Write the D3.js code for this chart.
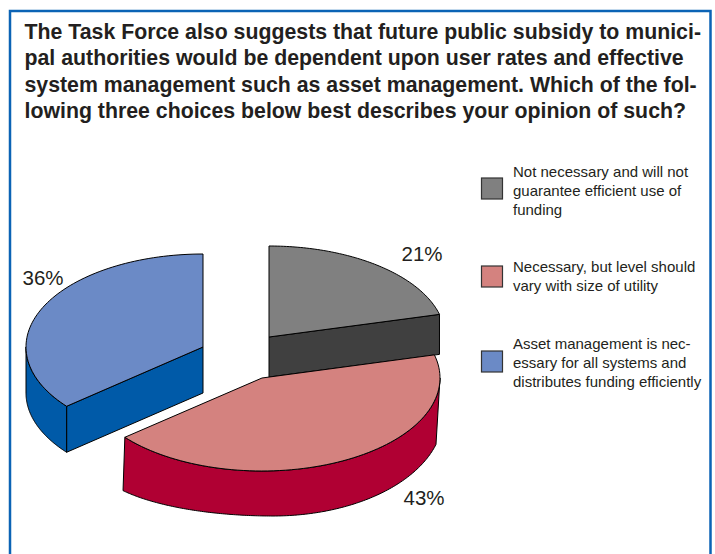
<!DOCTYPE html>
<html>
<head>
<meta charset="utf-8">
<script src="https://cdn.jsdelivr.net/npm/d3@7"></script>
<style>
html,body{margin:0;padding:0;background:#fff;overflow:hidden}
svg{display:block;font-family:"Liberation Sans",Arial,sans-serif}
</style>
</head>
<body>
<script>
const questionLines = [
  "The Task Force also suggests that future public subsidy to munici-",
  "pal authorities would be dependent upon user rates and effective",
  "system management such as asset management. Which of the fol-",
  "lowing three choices below best describes your opinion of such?"
];
const answers = ["Not necessary", "Necessary", "Asset management"];
const shares = [21, 43, 36];
const shareLabels = ["21%", "43%", "36%"];
const legendLines = [
  ["Not necessary and will not", "guarantee efficient use of", "funding"],
  ["Necessary, but level should", "vary with size of utility"],
  ["Asset management is nec-", "essary for all systems and", "distributes funding efficiently"]
];
const topColors = ["#808080", "#d4827f", "#6b8ac6"];
const wallColors = ["#404040", "#b00033", "#005aa8"];

// Where each exploded slice's apex sits, with the height of its wall and its label spot.
// The red slice's lower edge is drawn as two quarter ellipses meeting at its lowest point.
const sliceLayout = [
  {cx: 269, cy: 337, rx: 176, ry: 91, depth: 40, lx: 422, ly: 261},
  {cx: 262, cy: 378, rx: 178, ry: 93, depth: 46, lx: 424, ly: 505,
   base: [
     {cx: 273, cy: 416, rx: 170, ry: 100, from: 106.5, to: 180},
     {cx: 273, cy: 461, rx: 178, ry: 55, from: 180, to: 237.4}
   ]},
  {cx: 203, cy: 347, rx: 177, ry: 93, depth: 46, lx: 43, ly: 285}
];
const headingBaselines = [38.5, 64.5, 91.5, 118];
const legendLayout = [
  {swatchY: 178, textY: 177},
  {swatchY: 266, textY: 272},
  {swatchY: 351, textY: 349}
];

const width = 715, height = 554;
const svg = d3.select("body").append("svg").attr("width", width).attr("height", height);
const rad = d3.scaleLinear().domain([0, 360]).range([0, 2 * Math.PI]);

// Blue panel border, running off the bottom of the page
svg.append("path")
  .attr("d", "M10,560V11H710.5V560")
  .attr("fill", "none").attr("stroke", "#0b63b5").attr("stroke-width", 2.5);

// Question heading
svg.append("g").selectAll("text").data(questionLines).join("text")
  .attr("x", 24.5)
  .attr("y", (d, i) => headingBaselines[i])
  .attr("font-size", 21.3).attr("font-weight", 700).attr("fill", "#231f20")
  .text(d => d);

// Slices run clockwise from twelve o'clock
const arcs = d3.pie().sort(null).value(d => d)(shares);
const pieData = arcs.map((a, i) => ({...a, i, ...sliceLayout[i]}));

const outline = d3.line().curve(d3.curveLinear);

// Arc points between two angles on a tilted ellipse
function rim(e, from, to, dy) {
  const n = 80;
  return d3.range(n + 1).map(k => {
    const t = from + (to - from) * k / n;
    return [e.cx + e.rx * Math.sin(t), e.cy - e.ry * Math.cos(t) + dy];
  });
}

// Top face of a slice
function topFace(d) {
  return outline([[d.cx, d.cy], ...rim(d, d.startAngle, d.endAngle, 0)]) + "Z";
}

// Curved outer wall, limited to the part of the rim facing the viewer
function outerWall(d) {
  const from = Math.max(d.startAngle, Math.PI / 2);
  const to = Math.min(d.endAngle, 3 * Math.PI / 2);
  if (to <= from) return null;
  const upper = rim(d, from, to, 0);
  const lower = d.base
    ? d.base.slice().reverse().flatMap(e => rim(e, rad(e.to), rad(e.from), 0))
    : rim(d, to, from, d.depth);
  return outline([...upper, ...lower]) + "Z";
}

// Flat cut wall between the apex and one rim point
function cutWall(d, t) {
  const a = [d.cx, d.cy];
  const b = [d.cx + d.rx * Math.sin(t), d.cy - d.ry * Math.cos(t)];
  return outline([a, b, [b[0], b[1] + d.depth], [a[0], a[1] + d.depth]]) + "Z";
}

const pieG = svg.append("g")
  .attr("stroke", "#000").attr("stroke-width", 1).attr("stroke-linejoin", "round");

// Paint back to front: gray, blue, then the red slice in front
[pieData[0], pieData[2], pieData[1]].forEach(d => {
  const g = pieG.append("g");
  const wallFill = wallColors[d.i];
  if (d.i === 0) g.append("path").attr("d", cutWall(d, d.endAngle)).attr("fill", wallFill);
  if (d.i === 2) g.append("path").attr("d", cutWall(d, d.startAngle)).attr("fill", wallFill);
  const wall = outerWall(d);
  if (wall) g.append("path").attr("d", wall).attr("fill", wallFill);
  g.append("path").attr("d", topFace(d)).attr("fill", topColors[d.i]);
});

// Percentage labels
svg.append("g").selectAll("text").data(pieData).join("text")
  .attr("x", d => d.lx).attr("y", d => d.ly)
  .attr("text-anchor", "middle")
  .attr("font-size", 20.5).attr("fill", "#231f20")
  .text(d => shareLabels[d.i]);

// Legend
const legend = svg.append("g").selectAll("g").data(answers).join("g");
legend.append("rect")
  .attr("x", 481.5).attr("y", (d, i) => legendLayout[i].swatchY)
  .attr("width", 21).attr("height", 21)
  .attr("fill", (d, i) => topColors[i])
  .attr("stroke", "#333").attr("stroke-width", 1.2);
legend.each(function (d, i) {
  d3.select(this).selectAll("text").data(legendLines[i]).join("text")
    .attr("x", 513)
    .attr("y", (t, j) => legendLayout[i].textY + j * 19)
    .attr("font-size", 15).attr("fill", "#231f20")
    .text(t => t);
});
</script>
</body>
</html>
